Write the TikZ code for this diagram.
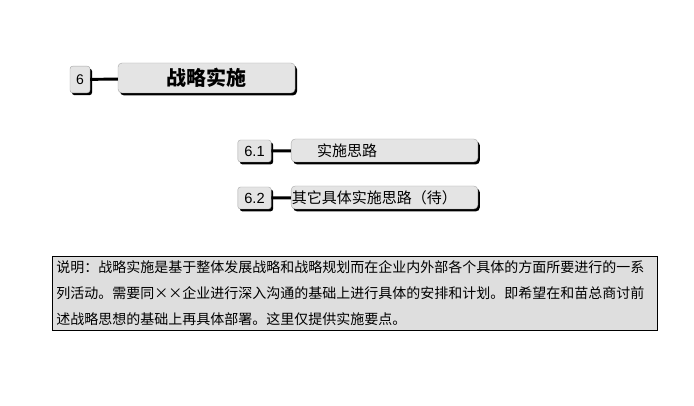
\documentclass[tikz,border=0pt]{standalone}
\usepackage{fontspec}
\setmainfont{Liberation Sans}
\newfontfamily\cjk{Noto Sans CJK SC}
\usetikzlibrary{shadows}
\definecolor{boxgray}{HTML}{E4E4E4}
\definecolor{notegray}{HTML}{DEDEDE}
\tikzstyle{shadowed} = [drop shadow={shadow xshift=1.5pt, shadow yshift=-1.8pt, fill=black, opacity=1}]
\tikzstyle{numbox} = [rectangle, rounded corners=2pt, inner sep=0pt, fill=boxgray, draw=gray!70, line width=0.3pt, shadowed, font=\fontsize{11}{13}\selectfont]
\tikzstyle{topic} = [rectangle, rounded corners=3pt, inner sep=0pt, fill=boxgray, draw=gray!70, line width=0.3pt, shadowed, minimum width=140pt, minimum height=17.25pt, text width=140pt, font=\cjk\fontsize{11.25}{13}\selectfont]
\tikzstyle{link} = [line width=2.2pt]
\tikzstyle{note} = [rectangle, fill=notegray, draw=black, line width=0.6pt, minimum width=453.75pt, minimum height=55.5pt, inner sep=0pt]

\begin{document}
\begin{tikzpicture}[x=0.75pt, y=-0.75pt]
        \useasboundingbox (0,0) rectangle (694,406);
        % chapter
        \node (num6) [numbox, minimum width=15pt, minimum height=20pt, font=\fontsize{10.5}{12}\selectfont] at (80,79.5) {6};
        \node (chapter) [topic, minimum width=132.75pt, text width=132.75pt, minimum height=22.5pt, align=center, font=\cjk\bfseries\fontsize{15}{17}\selectfont] at (206.5,78) {战略实施};
        \draw [link] (num6) -- (chapter);
        % sections
        \node (num61) [numbox, minimum width=25pt, minimum height=16.5pt] at (254.5,151) {6.1};
        \node (sec61) [topic, align=left] at (384.5,150.5) {\hspace*{19.5pt}实施思路};
        \draw [link] (num61) -- (sec61);
        \node (num62) [numbox, minimum width=25pt, minimum height=16.5pt] at (254.5,198) {6.2};
        \node (sec62) [topic, align=left] at (384.5,197.5) {\hspace*{0.5pt}其它具体实施思路（待）};
        \draw [link] (num62) -- (sec62);
        % note
        \node (remark) [note, align=left, text width=447pt, font=\cjk\fontsize{10.5}{19.5}\selectfont] at (354.5,293) {说明：战略实施是基于整体发展战略和战略规划而在企业内外部各个具体的方面所要进行的一系\\列活动。需要同××企业进行深入沟通的基础上进行具体的安排和计划。即希望在和苗总商讨前\\述战略思想的基础上再具体部署。这里仅提供实施要点。};
      \end{tikzpicture}
\end{document}
